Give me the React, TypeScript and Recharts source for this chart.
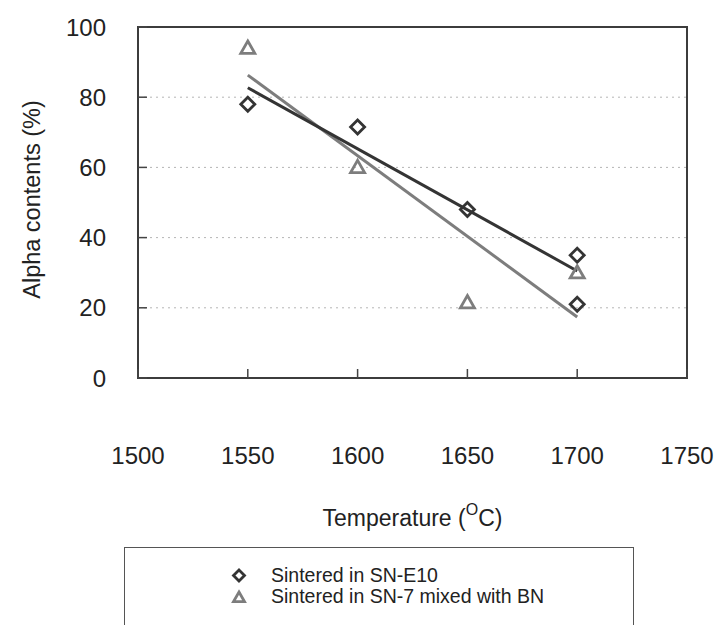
import React from "react";
import {
  CartesianGrid,
  Legend,
  ReferenceArea,
  Scatter,
  ScatterChart,
  XAxis,
  YAxis,
} from "recharts";

// values
const e10Temperature = [1550, 1600, 1650, 1700, 1700];
const e10Alpha = [78, 71.5, 48, 35, 21];
const bnTemperature = [1550, 1600, 1650, 1700];
const bnAlpha = [94, 60, 21.5, 30];

// linear trendlines, end points as drawn in the figure
const e10TrendTemperature = [1550, 1700];
const e10TrendAlpha = [82.7, 30.5];
const bnTrendTemperature = [1550, 1700];
const bnTrendAlpha = [86.3, 17.4];

const xTicks = [1500, 1550, 1600, 1650, 1700, 1750];
const yTicks = [0, 20, 40, 60, 80, 100];
const gridValues = [20, 40, 60, 80];

const legendLabels = ["Sintered in SN-E10", "Sintered in SN-7 mixed with BN"];

const FONT = "'Liberation Sans', Arial, sans-serif";
const DARK = "#343434";
const GREY = "#7d7d7d";

const toPoints = (xs: number[], ys: number[]) =>
  xs.map((temp, i) => ({ temp, alpha: ys[i] }));

const e10Data = toPoints(e10Temperature, e10Alpha);
const bnData = toPoints(bnTemperature, bnAlpha);
const e10Trend = toPoints(e10TrendTemperature, e10TrendAlpha);
const bnTrend = toPoints(bnTrendTemperature, bnTrendAlpha);

function Diamond({ cx, cy, r = 7 }: any) {
  return (
    <polygon
      points={`${cx},${cy - r} ${cx + r},${cy} ${cx},${cy + r} ${cx - r},${cy}`}
      fill="none"
      stroke={DARK}
      strokeWidth={2.8}
    />
  );
}

function Triangle({ cx, cy, r = 7 }: any) {
  return (
    <polygon
      points={`${cx},${cy - r} ${cx + r},${cy + r * 0.75} ${cx - r},${cy + r * 0.75}`}
      fill="none"
      stroke={GREY}
      strokeWidth={2.8}
    />
  );
}

const NoDot = () => <g />;

function YTitle({ viewBox }: any) {
  const x = 32;
  const y = viewBox.y + viewBox.height / 2 - 3;
  return (
    <text
      x={x}
      y={y}
      transform={`rotate(-90 ${x} ${y})`}
      textAnchor="middle"
      dominantBaseline="central"
      fontSize={23.5}
      fill="#222"
    >
      Alpha contents (%)
    </text>
  );
}

function XTitle({ viewBox }: any) {
  const x = viewBox.x + viewBox.width / 2;
  const y = viewBox.y + 148;
  return (
    <text x={x} y={y} textAnchor="middle" fontSize={23} fill="#222">
      Temperature (
      <tspan dy={-11} fontSize={16}>
        O
      </tspan>
      <tspan dy={11}>C)</tspan>
    </text>
  );
}

function LegendBox() {
  return (
    <div
      style={{
        border: "1px solid #555",
        height: 120,
        boxSizing: "border-box",
        fontFamily: FONT,
        fontSize: 19.5,
        color: "#222",
        paddingTop: 17,
        paddingLeft: 104,
        lineHeight: "21px",
      }}
    >
      {legendLabels.map((label, i) => (
        <div key={label} style={{ display: "flex", alignItems: "center" }}>
          <svg width={42} height={21}>
            {i === 0 ? (
              <Diamond cx={10} cy={10.5} r={5.5} />
            ) : (
              <Triangle cx={10} cy={11.5} r={5.5} />
            )}
          </svg>
          <span>{label}</span>
        </div>
      ))}
    </div>
  );
}

export default function App() {
  return (
    <div style={{ position: "absolute", left: 0, top: 0, fontFamily: FONT }}>
      <ScatterChart
        width={720}
        height={625}
        margin={{ top: 27, right: 33, bottom: 0, left: 0 }}
        style={{ fontFamily: FONT }}
      >
        <CartesianGrid
          vertical={false}
          horizontalValues={gridValues}
          stroke="#b5b5b5"
          strokeDasharray="2 4"
        />
        <XAxis
          type="number"
          dataKey="temp"
          domain={[1500, 1750]}
          ticks={xTicks}
          allowDataOverflow
          height={247}
          axisLine={false}
          tickSize={-9}
          tickMargin={78}
          tickLine={{ stroke: "#444", strokeWidth: 1.5 }}
          tick={{ fontSize: 24, fill: "#222" }}
          label={<XTitle />}
        />
        <YAxis
          type="number"
          dataKey="alpha"
          domain={[0, 100]}
          ticks={yTicks}
          width={138}
          axisLine={false}
          tickSize={-9}
          tickMargin={41}
          tickLine={{ stroke: "#444", strokeWidth: 1.5 }}
          tick={{ fontSize: 24, fill: "#222" }}
          label={<YTitle />}
        />
        <ReferenceArea
          x1={1500}
          x2={1750}
          y1={0}
          y2={100}
          fill="none"
          fillOpacity={0}
          stroke="#3c3c3c"
          strokeWidth={2}
        />
        <Scatter
          data={bnTrend}
          line={{ stroke: GREY, strokeWidth: 3 }}
          shape={NoDot}
          legendType="none"
          isAnimationActive={false}
        />
        <Scatter
          data={e10Trend}
          line={{ stroke: DARK, strokeWidth: 3 }}
          shape={NoDot}
          legendType="none"
          isAnimationActive={false}
        />
        <Scatter
          name={legendLabels[0]}
          data={e10Data}
          shape={<Diamond />}
          isAnimationActive={false}
        />
        <Scatter
          name={legendLabels[1]}
          data={bnData}
          shape={<Triangle />}
          isAnimationActive={false}
        />
        <Legend
          layout="horizontal"
          verticalAlign="middle"
          content={<LegendBox />}
          wrapperStyle={{ left: 124, top: 547, width: 510 }}
        />
      </ScatterChart>
    </div>
  );
}
